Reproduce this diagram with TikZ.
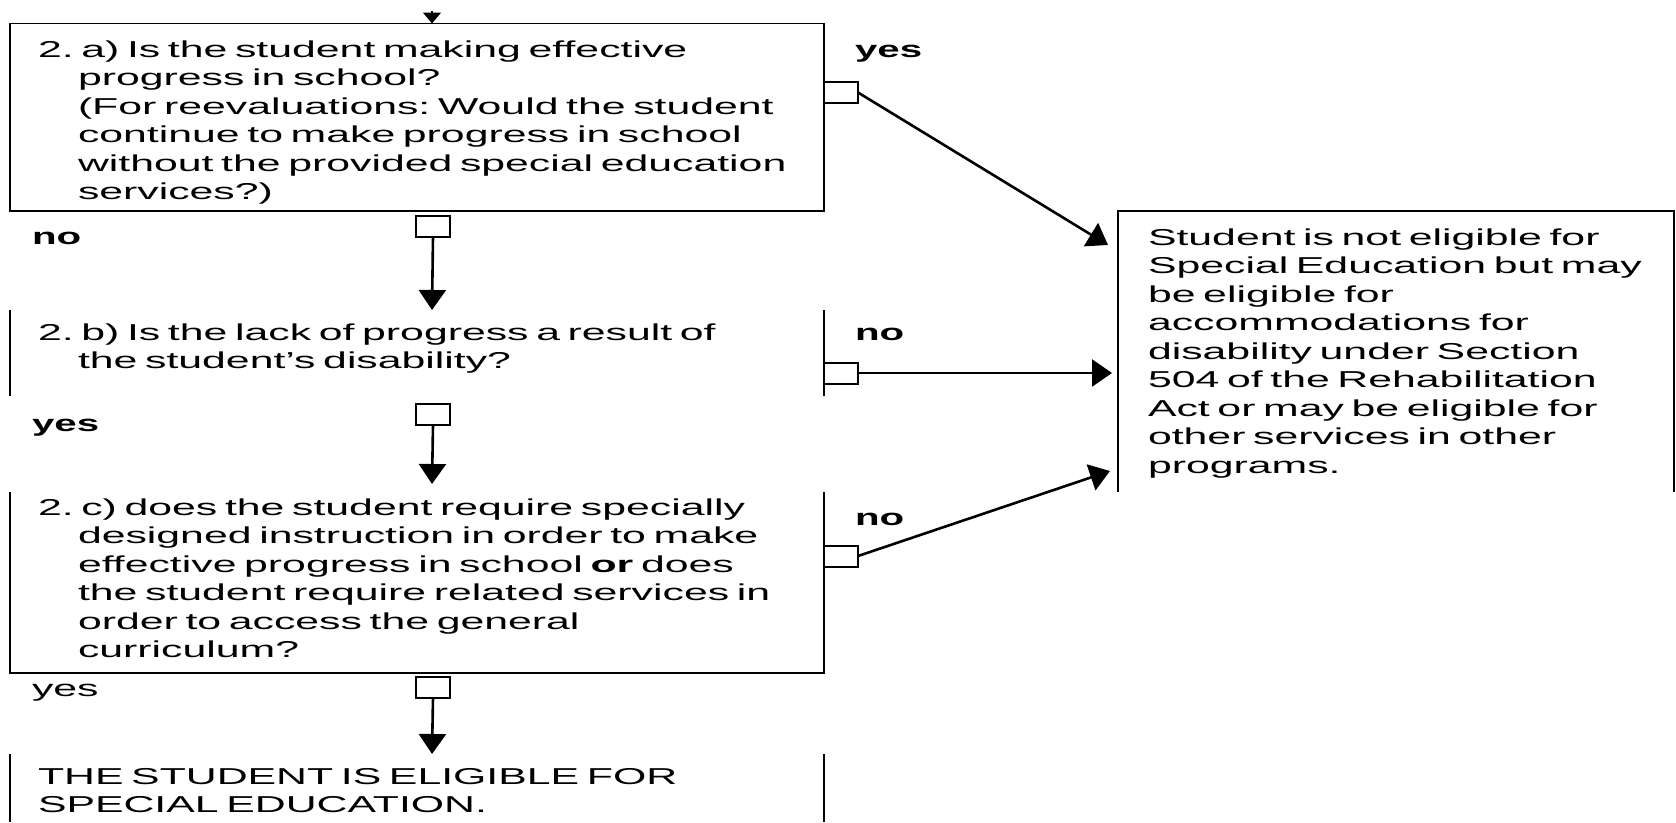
\documentclass[tikz,border=0pt]{standalone}
\usepackage{fontspec}
\setmainfont{Liberation Sans}[FakeStretch=1.86]
\newfontfamily\answerfont{Liberation Sans}[FakeStretch=1.75]
\usetikzlibrary{arrows.meta}
\newcommand{\contline}{\hspace*{40pt}}
\frenchspacing
\begin{document}
\begin{tikzpicture}[x=1pt,y=-1pt,
  every node/.style={inner sep=0pt, outer sep=0pt},
  body/.style={font=\fontsize{23}{28.5}\selectfont, anchor=base west, align=left, text width=#1},
  lbl/.style={font=\answerfont\fontsize{23}{28.5}\selectfont\bfseries, anchor=base west},
  plainlbl/.style={font=\fontsize{23}{28.5}\selectfont, anchor=base west},
  frame/.style={line width=1.5pt},
  port/.style={draw, line width=2pt, fill=white, minimum width=34pt, minimum height=21pt},
  flow/.style={line width=2.6pt, -{Triangle[length=20pt,width=27pt]}},
]
\useasboundingbox (0,0) rectangle (1676,822);
\fill[white] (0,0) rectangle (1676,822);

% question and outcome frames
\draw[frame] (10,23.5) rectangle (824,211);
\draw[frame] (10,310) -- (10,395.5);
\draw[frame] (824,310) -- (824,395.5);
\draw[frame] (10,492) -- (10,673) -- (824,673) -- (824,492);
\draw[frame] (10,754) -- (10,822);
\draw[frame] (824,754) -- (824,822);
\draw[frame] (1118,492) -- (1118,211) -- (1674,211) -- (1674,492);

% texts
\node[body=800pt] (qa) at (38,57) {2. a) Is the student making effective\\
\contline progress in school?\\
\contline (For reevaluations: Would the student\\
\contline continue to make progress in school\\
\contline without the provided special education\\
\contline services?)};
\node[body=800pt] (qb) at (38,340) {2. b) Is the lack of progress a result of\\
\contline the student’s disability?};
\node[body=800pt] (qc) at (38,515) {2. c) does the student require specially\\
\contline designed instruction in order to make\\
\contline effective progress in school \textbf{or} does\\
\contline the student require related services in\\
\contline order to access the general\\
\contline curriculum?};
\node[body=800pt] (elig) at (38,784) {THE STUDENT IS ELIGIBLE FOR\\
SPECIAL EDUCATION.};
\node[body=520pt] (notelig) at (1148,245) {Student is not eligible for\\
Special Education but may\\
be eligible for\\
accommodations for\\
disability under Section\\
504 of the Rehabilitation\\
Act or may be eligible for\\
other services in other\\
programs.};

% answer labels
\node[lbl] (ya) at (855,57) {yes};
\node[lbl] (na) at (32,244) {no};
\node[lbl] (nb) at (855,340) {no};
\node[lbl] (yb) at (32,431) {yes};
\node[lbl] (nc) at (855,525) {no};
\node[plainlbl] (yc) at (32,696) {yes};

% connection ports
\node[port] (pay) at (841,92.5) {};
\node[port] (pan) at (433,226) {};
\node[port] (pbn) at (841,373) {};
\node[port] (pby) at (433,414) {};
\node[port] (pcn) at (841,556) {};
\node[port] (pcy) at (433,687) {};

% arrow ends
\coordinate (entry) at (432,11);
\coordinate (atop) at (432,23.5);
\coordinate (btop) at (432,310);
\coordinate (ctop) at (432,484);
\coordinate (dtop) at (432,754);
\coordinate (r1) at (1108,245);
\coordinate (r2) at (1112,373);
\coordinate (r3) at (1110,471);

% connectors
\draw[line width=1.5pt, -{Triangle[length=11pt,width=18pt]}] (entry) -- (atop);
\draw[flow] (pan.south) -- (btop);
\draw[flow] (pby.south) -- (ctop);
\draw[flow] (pcy.south) -- (dtop);
\draw[flow] (pay.east) -- (r1);
\draw[flow] (pbn.east) -- (r2);
\draw[flow] (pcn.east) -- (r3);
\end{tikzpicture}
\end{document}
